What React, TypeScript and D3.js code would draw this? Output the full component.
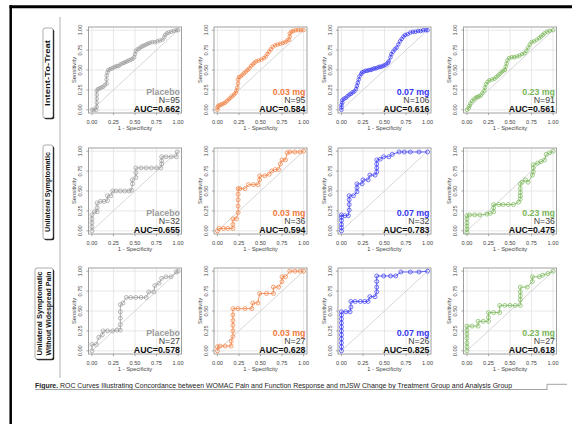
import React, { useRef, useEffect } from 'react';
import * as d3 from 'd3';

const groups = ['Placebo', '0.03 mg', '0.07 mg', '0.23 mg'];
const groupColors = ['#9a9a9a', '#f07d3e', '#3838f2', '#78b657'];
const rowLabels = [
  ['Intent-To-Treat'],
  ['Unilateral Symptomatic'],
  ['Unilateral Symptomatic', 'Without Widespread Pain'],
];
const nValues = [
  [95, 95, 106, 91],
  [32, 36, 32, 36],
  [27, 27, 26, 27],
];
const aucValues = [
  ['0.662', '0.584', '0.616', '0.561'],
  ['0.655', '0.594', '0.783', '0.475'],
  ['0.578', '0.628', '0.825', '0.618'],
];
const ticks = [0, 0.25, 0.5, 0.75, 1];
const tickLabels = ['0.00', '0.25', '0.50', '0.75', '1.00'];
const caption = 'ROC Curves Illustrating Concordance between WOMAC Pain and Function Response and mJSW Change by Treatment Group and Analysis Group';

// ROC points: [1 - specificity, sensitivity]
const ittPlacebo = [[0,0],[0.02,0],[0.05,0],[0.055,0.04],[0.055,0.09],[0.055,0.14],[0.055,0.19],[0.055,0.24],[0.07,0.26],[0.09,0.27],[0.11,0.28],[0.13,0.29],[0.15,0.31],[0.17,0.33],[0.17,0.38],[0.17,0.43],[0.18,0.47],[0.19,0.5],[0.21,0.51],[0.23,0.52],[0.25,0.53],[0.27,0.54],[0.29,0.55],[0.31,0.55],[0.33,0.57],[0.35,0.58],[0.37,0.59],[0.39,0.6],[0.41,0.61],[0.43,0.62],[0.45,0.63],[0.47,0.64],[0.49,0.66],[0.5,0.7],[0.51,0.74],[0.53,0.76],[0.55,0.77],[0.57,0.79],[0.59,0.8],[0.61,0.81],[0.63,0.82],[0.65,0.83],[0.67,0.84],[0.7,0.85],[0.73,0.85],[0.76,0.86],[0.79,0.87],[0.82,0.88],[0.84,0.91],[0.85,0.94],[0.87,0.96],[0.89,0.97],[0.92,0.98],[0.95,0.99],[0.98,1],[1,1]];
const ittLow = [[0,0],[0,0.03],[0.01,0.05],[0.03,0.06],[0.05,0.07],[0.07,0.08],[0.09,0.09],[0.11,0.11],[0.13,0.13],[0.15,0.15],[0.17,0.17],[0.19,0.19],[0.21,0.21],[0.22,0.24],[0.23,0.28],[0.24,0.33],[0.24,0.38],[0.25,0.41],[0.27,0.42],[0.29,0.44],[0.31,0.46],[0.33,0.48],[0.35,0.5],[0.37,0.52],[0.39,0.55],[0.41,0.57],[0.43,0.59],[0.45,0.61],[0.48,0.62],[0.51,0.63],[0.54,0.65],[0.56,0.67],[0.58,0.7],[0.6,0.73],[0.62,0.76],[0.64,0.79],[0.67,0.81],[0.7,0.82],[0.73,0.83],[0.76,0.84],[0.79,0.85],[0.81,0.87],[0.83,0.88],[0.84,0.92],[0.84,0.96],[0.86,0.98],[0.88,0.99],[0.91,1],[0.94,1],[0.97,1],[1,1]];
const ittMid = [[0,0],[0,0.03],[0,0.06],[0.01,0.09],[0.01,0.12],[0.03,0.14],[0.05,0.15],[0.07,0.17],[0.09,0.19],[0.11,0.2],[0.13,0.22],[0.15,0.23],[0.17,0.26],[0.18,0.3],[0.19,0.34],[0.2,0.38],[0.21,0.42],[0.23,0.45],[0.24,0.47],[0.26,0.48],[0.28,0.49],[0.3,0.49],[0.32,0.5],[0.34,0.5],[0.36,0.51],[0.38,0.52],[0.4,0.52],[0.42,0.53],[0.44,0.54],[0.46,0.54],[0.48,0.55],[0.5,0.56],[0.52,0.57],[0.54,0.59],[0.55,0.61],[0.57,0.66],[0.58,0.7],[0.6,0.73],[0.62,0.76],[0.64,0.78],[0.66,0.82],[0.68,0.86],[0.7,0.89],[0.72,0.92],[0.74,0.94],[0.77,0.95],[0.8,0.97],[0.83,0.98],[0.86,0.98],[0.89,0.99],[0.92,0.99],[0.95,1],[0.98,1],[1,1]];
const ittHigh = [[0,0],[0.02,0.02],[0.03,0.05],[0.04,0.08],[0.06,0.11],[0.08,0.13],[0.1,0.15],[0.12,0.16],[0.14,0.17],[0.16,0.18],[0.18,0.21],[0.2,0.24],[0.21,0.28],[0.22,0.32],[0.24,0.35],[0.26,0.37],[0.29,0.38],[0.32,0.39],[0.34,0.41],[0.36,0.43],[0.38,0.45],[0.4,0.47],[0.42,0.49],[0.44,0.5],[0.45,0.54],[0.46,0.58],[0.47,0.62],[0.49,0.65],[0.52,0.66],[0.55,0.66],[0.58,0.67],[0.61,0.68],[0.64,0.7],[0.67,0.71],[0.69,0.74],[0.71,0.78],[0.73,0.82],[0.75,0.85],[0.78,0.86],[0.81,0.88],[0.84,0.9],[0.86,0.92],[0.88,0.94],[0.9,0.96],[0.93,0.98],[0.96,0.99],[1,1]];

const uniPlacebo = [[0,0],[0,0.05],[0,0.1],[0,0.15],[0,0.2],[0.03,0.24],[0.06,0.24],[0.06,0.29],[0.06,0.35],[0.1,0.37],[0.14,0.37],[0.18,0.38],[0.18,0.44],[0.22,0.44],[0.24,0.5],[0.28,0.5],[0.33,0.5],[0.38,0.5],[0.43,0.5],[0.46,0.51],[0.47,0.59],[0.47,0.64],[0.51,0.67],[0.51,0.73],[0.51,0.79],[0.57,0.79],[0.63,0.79],[0.69,0.79],[0.75,0.79],[0.8,0.79],[0.81,0.84],[0.81,0.88],[0.81,0.93],[0.86,0.93],[0.92,0.93],[0.98,0.93],[0.99,0.99]];
const uniLow = [[0,0],[0.02,0.03],[0.07,0.03],[0.12,0.03],[0.18,0.03],[0.18,0.08],[0.18,0.15],[0.22,0.15],[0.24,0.23],[0.24,0.31],[0.24,0.39],[0.24,0.46],[0.24,0.53],[0.26,0.53],[0.32,0.53],[0.36,0.58],[0.42,0.58],[0.47,0.58],[0.49,0.64],[0.49,0.69],[0.55,0.69],[0.6,0.71],[0.63,0.75],[0.67,0.77],[0.71,0.77],[0.73,0.84],[0.75,0.89],[0.79,0.89],[0.81,0.98],[0.84,0.99],[0.9,0.99],[0.96,0.99],[1,1]];
const uniMid = [[0,0],[0,0.04],[0,0.08],[0,0.13],[0,0.17],[0,0.2],[0.04,0.19],[0.08,0.19],[0.09,0.26],[0.09,0.33],[0.09,0.39],[0.09,0.44],[0.14,0.44],[0.18,0.49],[0.18,0.54],[0.18,0.59],[0.24,0.59],[0.25,0.64],[0.31,0.64],[0.33,0.7],[0.39,0.7],[0.41,0.74],[0.41,0.79],[0.41,0.84],[0.41,0.89],[0.45,0.9],[0.49,0.93],[0.55,0.93],[0.59,0.96],[0.67,0.99],[0.73,0.99],[0.8,0.99],[0.9,0.99],[1,0.99]];
const uniHigh = [[0,-0.02],[0,0.02],[0,0.06],[0,0.1],[0,0.15],[0,0.19],[0.03,0.2],[0.09,0.2],[0.15,0.2],[0.23,0.21],[0.27,0.22],[0.31,0.24],[0.31,0.29],[0.31,0.33],[0.37,0.33],[0.42,0.33],[0.48,0.33],[0.54,0.33],[0.6,0.36],[0.62,0.4],[0.62,0.44],[0.62,0.48],[0.62,0.53],[0.62,0.59],[0.64,0.61],[0.68,0.64],[0.71,0.61],[0.76,0.7],[0.77,0.74],[0.77,0.79],[0.77,0.83],[0.82,0.85],[0.86,0.87],[0.9,0.89],[0.92,0.96],[0.96,0.98],[1,1]];

const wwpPlacebo = [[0,0],[0,0.08],[0.05,0.08],[0.08,0.17],[0.12,0.2],[0.13,0.25],[0.18,0.25],[0.24,0.25],[0.29,0.26],[0.33,0.26],[0.33,0.33],[0.33,0.41],[0.33,0.49],[0.33,0.58],[0.36,0.6],[0.4,0.67],[0.45,0.67],[0.51,0.67],[0.57,0.67],[0.63,0.67],[0.66,0.74],[0.72,0.74],[0.73,0.82],[0.78,0.85],[0.81,0.91],[0.86,0.93],[0.92,0.93],[0.98,0.99],[1,1]];
const wwpLow = [[0,0],[0,0.05],[0.03,0.06],[0.09,0.06],[0.16,0.06],[0.16,0.12],[0.18,0.18],[0.18,0.25],[0.18,0.32],[0.18,0.38],[0.18,0.45],[0.18,0.53],[0.24,0.53],[0.32,0.53],[0.4,0.53],[0.41,0.6],[0.47,0.6],[0.49,0.72],[0.57,0.72],[0.65,0.72],[0.65,0.8],[0.71,0.8],[0.75,0.87],[0.75,0.93],[0.79,0.93],[0.84,1],[0.9,1],[0.96,1],[1,1]];
const wwpMid = [[0,0],[0,0.05],[0,0.1],[0,0.15],[0,0.2],[0,0.25],[0,0.3],[0,0.35],[0,0.4],[0,0.45],[0,0.49],[0.05,0.49],[0.1,0.49],[0.11,0.55],[0.11,0.62],[0.16,0.62],[0.22,0.62],[0.27,0.62],[0.31,0.62],[0.33,0.68],[0.39,0.68],[0.41,0.74],[0.41,0.8],[0.41,0.87],[0.41,0.94],[0.49,0.94],[0.57,0.94],[0.63,0.94],[0.69,0.99],[0.8,0.99],[0.9,0.99],[1,1]];
const wwpHigh = [[0,0],[0,0.05],[0,0.1],[0,0.16],[0,0.21],[0,0.26],[0,0.31],[0.06,0.31],[0.13,0.31],[0.13,0.37],[0.19,0.37],[0.25,0.37],[0.25,0.42],[0.25,0.48],[0.31,0.48],[0.38,0.48],[0.38,0.57],[0.44,0.57],[0.5,0.57],[0.56,0.57],[0.62,0.57],[0.62,0.64],[0.62,0.69],[0.62,0.74],[0.62,0.8],[0.7,0.8],[0.76,0.87],[0.76,0.93],[0.84,0.93],[0.88,0.95],[0.94,0.97],[1,1]];

const curves = [
  [ittPlacebo, ittLow, ittMid, ittHigh],
  [uniPlacebo, uniLow, uniMid, uniHigh],
  [wwpPlacebo, wwpLow, wwpMid, wwpHigh],
];

const colLeft = [88.5, 214, 338, 463.5];
const rowTop = [27, 148, 268];
const panelW = 93;
const panelH = 86;
const font = "'Liberation Sans', Arial, sans-serif";

const App = () => {
  const svgRef = useRef(null);

  useEffect(() => {
    const svg = d3.select(svgRef.current);
    svg.selectAll('*').remove();

    svg.append('rect').attr('width', 572).attr('height', 424).attr('fill', '#fff');

    // page frame
    svg.append('line').attr('x1', 9.5).attr('x2', 572).attr('y1', 6.7).attr('y2', 6.7)
      .attr('stroke', '#000').attr('stroke-width', 3);
    svg.append('line').attr('x1', 10.7).attr('x2', 10.7).attr('y1', 5.2).attr('y2', 424)
      .attr('stroke', '#000').attr('stroke-width', 2.5);
    svg.append('line').attr('x1', 60).attr('x2', 60).attr('y1', 17).attr('y2', 378)
      .attr('stroke', '#c4c4c4').attr('stroke-width', 1.3);

    // row labels
    const labelBoxes = [
      { x: 43, y: 28, w: 10, h: 90, len: 66 },
      { x: 43, y: 145, w: 10, h: 94, len: 80 },
      { x: 35, y: 268, w: 18, h: 91, len: 84 },
    ];
    labelBoxes.forEach((b, r) => {
      svg.append('rect').attr('x', b.x + 1.2).attr('y', b.y + 1.2).attr('width', b.w).attr('height', b.h)
        .attr('rx', 2).attr('fill', '#111');
      svg.append('rect').attr('x', b.x).attr('y', b.y).attr('width', b.w).attr('height', b.h)
        .attr('rx', 2).attr('fill', '#fff').attr('stroke', '#777').attr('stroke-width', 0.6);
      const lines = rowLabels[r];
      lines.forEach((txt, i) => {
        const cx = b.x + b.w * (i + 0.5) / lines.length + 2.2;
        const cy = b.y + b.h / 2;
        svg.append('text')
          .attr('transform', `translate(${cx},${cy}) rotate(-90)`)
          .attr('text-anchor', 'middle')
          .attr('font-family', font).attr('font-size', 6.3).attr('font-weight', 'bold')
          .attr('textLength', b.len).attr('lengthAdjust', 'spacingAndGlyphs')
          .attr('fill', '#111')
          .text(txt);
      });
    });

    const line = d3.line();

    curves.forEach((row, r) => {
      row.forEach((data, c) => {
        const left = colLeft[c];
        const top = rowTop[r];
        const x = d3.scaleLinear().domain([-0.04, 1.04]).range([left, left + panelW]);
        const y = d3.scaleLinear().domain([-0.04, 1.04]).range([top + panelH, top]);
        const g = svg.append('g');
        const color = groupColors[c];

        g.append('rect').attr('x', left).attr('y', top).attr('width', panelW).attr('height', panelH)
          .attr('fill', '#fff');

        // grid
        ticks.forEach(t => {
          g.append('line').attr('x1', x(t)).attr('x2', x(t)).attr('y1', top).attr('y2', top + panelH)
            .attr('stroke', '#e2e2e2').attr('stroke-width', 0.8);
          g.append('line').attr('y1', y(t)).attr('y2', y(t)).attr('x1', left).attr('x2', left + panelW)
            .attr('stroke', '#e2e2e2').attr('stroke-width', 0.8);
        });

        // reference diagonal
        g.append('line').attr('x1', x(0)).attr('y1', y(0)).attr('x2', x(1)).attr('y2', y(1))
          .attr('stroke', '#c6c6c6').attr('stroke-width', 0.7);

        g.append('rect').attr('x', left).attr('y', top).attr('width', panelW).attr('height', panelH)
          .attr('fill', 'none').attr('stroke', '#a0a0a0').attr('stroke-width', 1);

        // axes ticks and labels
        ticks.forEach((t, i) => {
          g.append('line').attr('x1', x(t)).attr('x2', x(t)).attr('y1', top + panelH).attr('y2', top + panelH + 2.2)
            .attr('stroke', '#888').attr('stroke-width', 0.7);
          g.append('line').attr('y1', y(t)).attr('y2', y(t)).attr('x1', left - 2.2).attr('x2', left)
            .attr('stroke', '#888').attr('stroke-width', 0.7);
          g.append('text').attr('x', x(t)).attr('y', top + panelH + 10.8)
            .attr('text-anchor', 'middle').attr('font-family', font).attr('font-size', 5.6)
            .attr('fill', '#444').text(tickLabels[i]);
          g.append('text')
            .attr('transform', `translate(${left - 6.3},${y(t)}) rotate(-90)`)
            .attr('text-anchor', 'middle').attr('font-family', font).attr('font-size', 5.6)
            .attr('fill', '#444').text(tickLabels[i]);
        });
        g.append('text').attr('x', left + panelW / 2).attr('y', top + panelH + 16.8)
          .attr('text-anchor', 'middle').attr('font-family', font).attr('font-size', 5.8)
          .attr('fill', '#444').text('1 - Specificity');
        g.append('text')
          .attr('transform', `translate(${left - 12.5},${top + panelH / 2}) rotate(-90)`)
          .attr('text-anchor', 'middle').attr('font-family', font).attr('font-size', 5.8)
          .attr('fill', '#444').text('Sensitivity');

        // ROC curve
        g.append('path')
          .datum(data)
          .attr('fill', 'none').attr('stroke', color).attr('stroke-width', 0.8)
          .attr('d', line.x(d => x(d[0])).y(d => y(d[1])));
        g.selectAll('circle.pt').data(data).enter().append('circle')
          .attr('cx', d => x(d[0])).attr('cy', d => y(d[1]))
          .attr('r', r === 0 ? 1.8 : 2)
          .attr('fill', 'none').attr('stroke', color).attr('stroke-width', 0.7);

        // annotation
        const tx = left + panelW - 1.5;
        const bottom = top + panelH;
        g.append('text').attr('x', tx).attr('y', bottom - 18.2).attr('text-anchor', 'end')
          .attr('font-family', font).attr('font-size', 8.8).attr('font-weight', 'bold')
          .attr('fill', color).text(groups[c]);
        g.append('text').attr('x', tx).attr('y', bottom - 9.8).attr('text-anchor', 'end')
          .attr('font-family', font).attr('font-size', 8.8)
          .attr('fill', '#444').text(`N=${nValues[r][c]}`);
        g.append('text').attr('x', tx).attr('y', bottom - 1.4).attr('text-anchor', 'end')
          .attr('font-family', font).attr('font-size', 8.8).attr('font-weight', 'bold')
          .attr('fill', '#111').text(`AUC=${aucValues[r][c]}`);
      });
    });

    // caption
    const cap = svg.append('text').attr('x', 35).attr('y', 387.6)
      .attr('font-family', font).attr('font-size', 7.4).attr('fill', '#222')
      .attr('textLength', 477).attr('lengthAdjust', 'spacingAndGlyphs');
    cap.append('tspan').attr('font-weight', 'bold').text('Figure.');
    cap.append('tspan').text(' ' + caption);
    svg.append('path').attr('d', 'M35,389.5H547V384.3H567')
      .attr('fill', 'none').attr('stroke', '#8a8a8a').attr('stroke-width', 0.8);
  }, []);

  return (
    <svg ref={svgRef} width={572} height={424}
      style={{ position: 'absolute', left: 0, top: 0, display: 'block' }}></svg>
  );
};

export default App;
